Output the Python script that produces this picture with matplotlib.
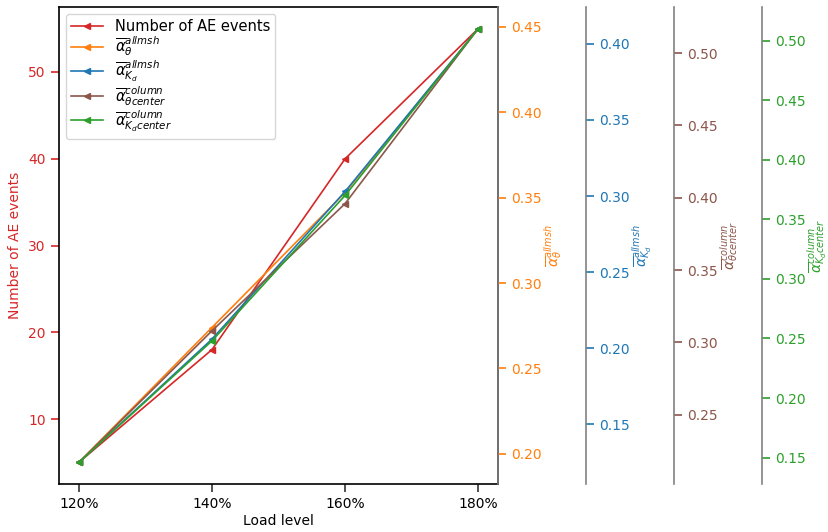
import matplotlib
matplotlib.use("Agg")
import matplotlib.pyplot as plt

# Data
load_levels = ["120%", "140%", "160%", "180%"]
ae_events = [5, 18, 40, 55]
alpha_theta_allmsh = [0.195, 0.274, 0.353, 0.449]
alpha_kd_allmsh = [0.125, 0.206, 0.303, 0.410]
alpha_theta_column = [0.217, 0.308, 0.396, 0.517]
alpha_kd_column = [0.146, 0.248, 0.370, 0.510]

labels = [
    "Number of AE events",
    r"$\overline{\alpha}_{\theta}^{allmsh}$",
    r"$\overline{\alpha}_{K_d}^{allmsh}$",
    r"$\overline{\alpha}_{\theta center}^{column}$",
    r"$\overline{\alpha}_{K_d center}^{column}$",
]
colors = ["tab:red", "tab:orange", "tab:blue", "tab:brown", "tab:green"]
series = [ae_events, alpha_theta_allmsh, alpha_kd_allmsh, alpha_theta_column, alpha_kd_column]

plt.rcParams["font.size"] = 10

fig, ax = plt.subplots(figsize=(8.29, 5.32), dpi=100)
fig.subplots_adjust(left=0.071, right=0.601, bottom=0.090, top=0.987)

x = list(range(len(load_levels)))
axes = [ax]
for i in range(1, len(series)):
    axes.append(ax.twinx())

offsets = [None, None, 1.2, 1.4, 1.6]
handles = []
for i, (a, vals) in enumerate(zip(axes, series)):
    line, = a.plot(x, vals, color=colors[i], marker="<", markersize=5,
                   linewidth=1.2, label=labels[i])
    handles.append(line)
    a.set_ylabel(labels[i], color=colors[i], fontsize=10,
                 labelpad=4 if i == 0 else 0)
    a.tick_params(axis="y", colors=colors[i], labelcolor=colors[i],
                  length=6, width=1.2, labelsize=10)
    if i > 0:
        for s in ["top", "left", "bottom"]:
            a.spines[s].set_visible(False)
        a.spines["right"].set_color("gray")
        a.spines["right"].set_linewidth(1.2)
    if offsets[i] is not None:
        a.spines["right"].set_position(("axes", offsets[i]))

for s in ax.spines.values():
    s.set_color("black")
    s.set_linewidth(1.2)

ax.set_xticks(x)
ax.set_xticklabels(load_levels)
ax.tick_params(axis="x", length=6, width=1.2, colors="#333333", labelcolor="black")
ax.set_xlabel("Load level", fontsize=10, labelpad=2)

ax.legend(handles=handles, loc="upper left", fontsize=10.5,
          labelspacing=0.05, handlelength=2.2, borderpad=0.35)

fig.savefig("out.png")
